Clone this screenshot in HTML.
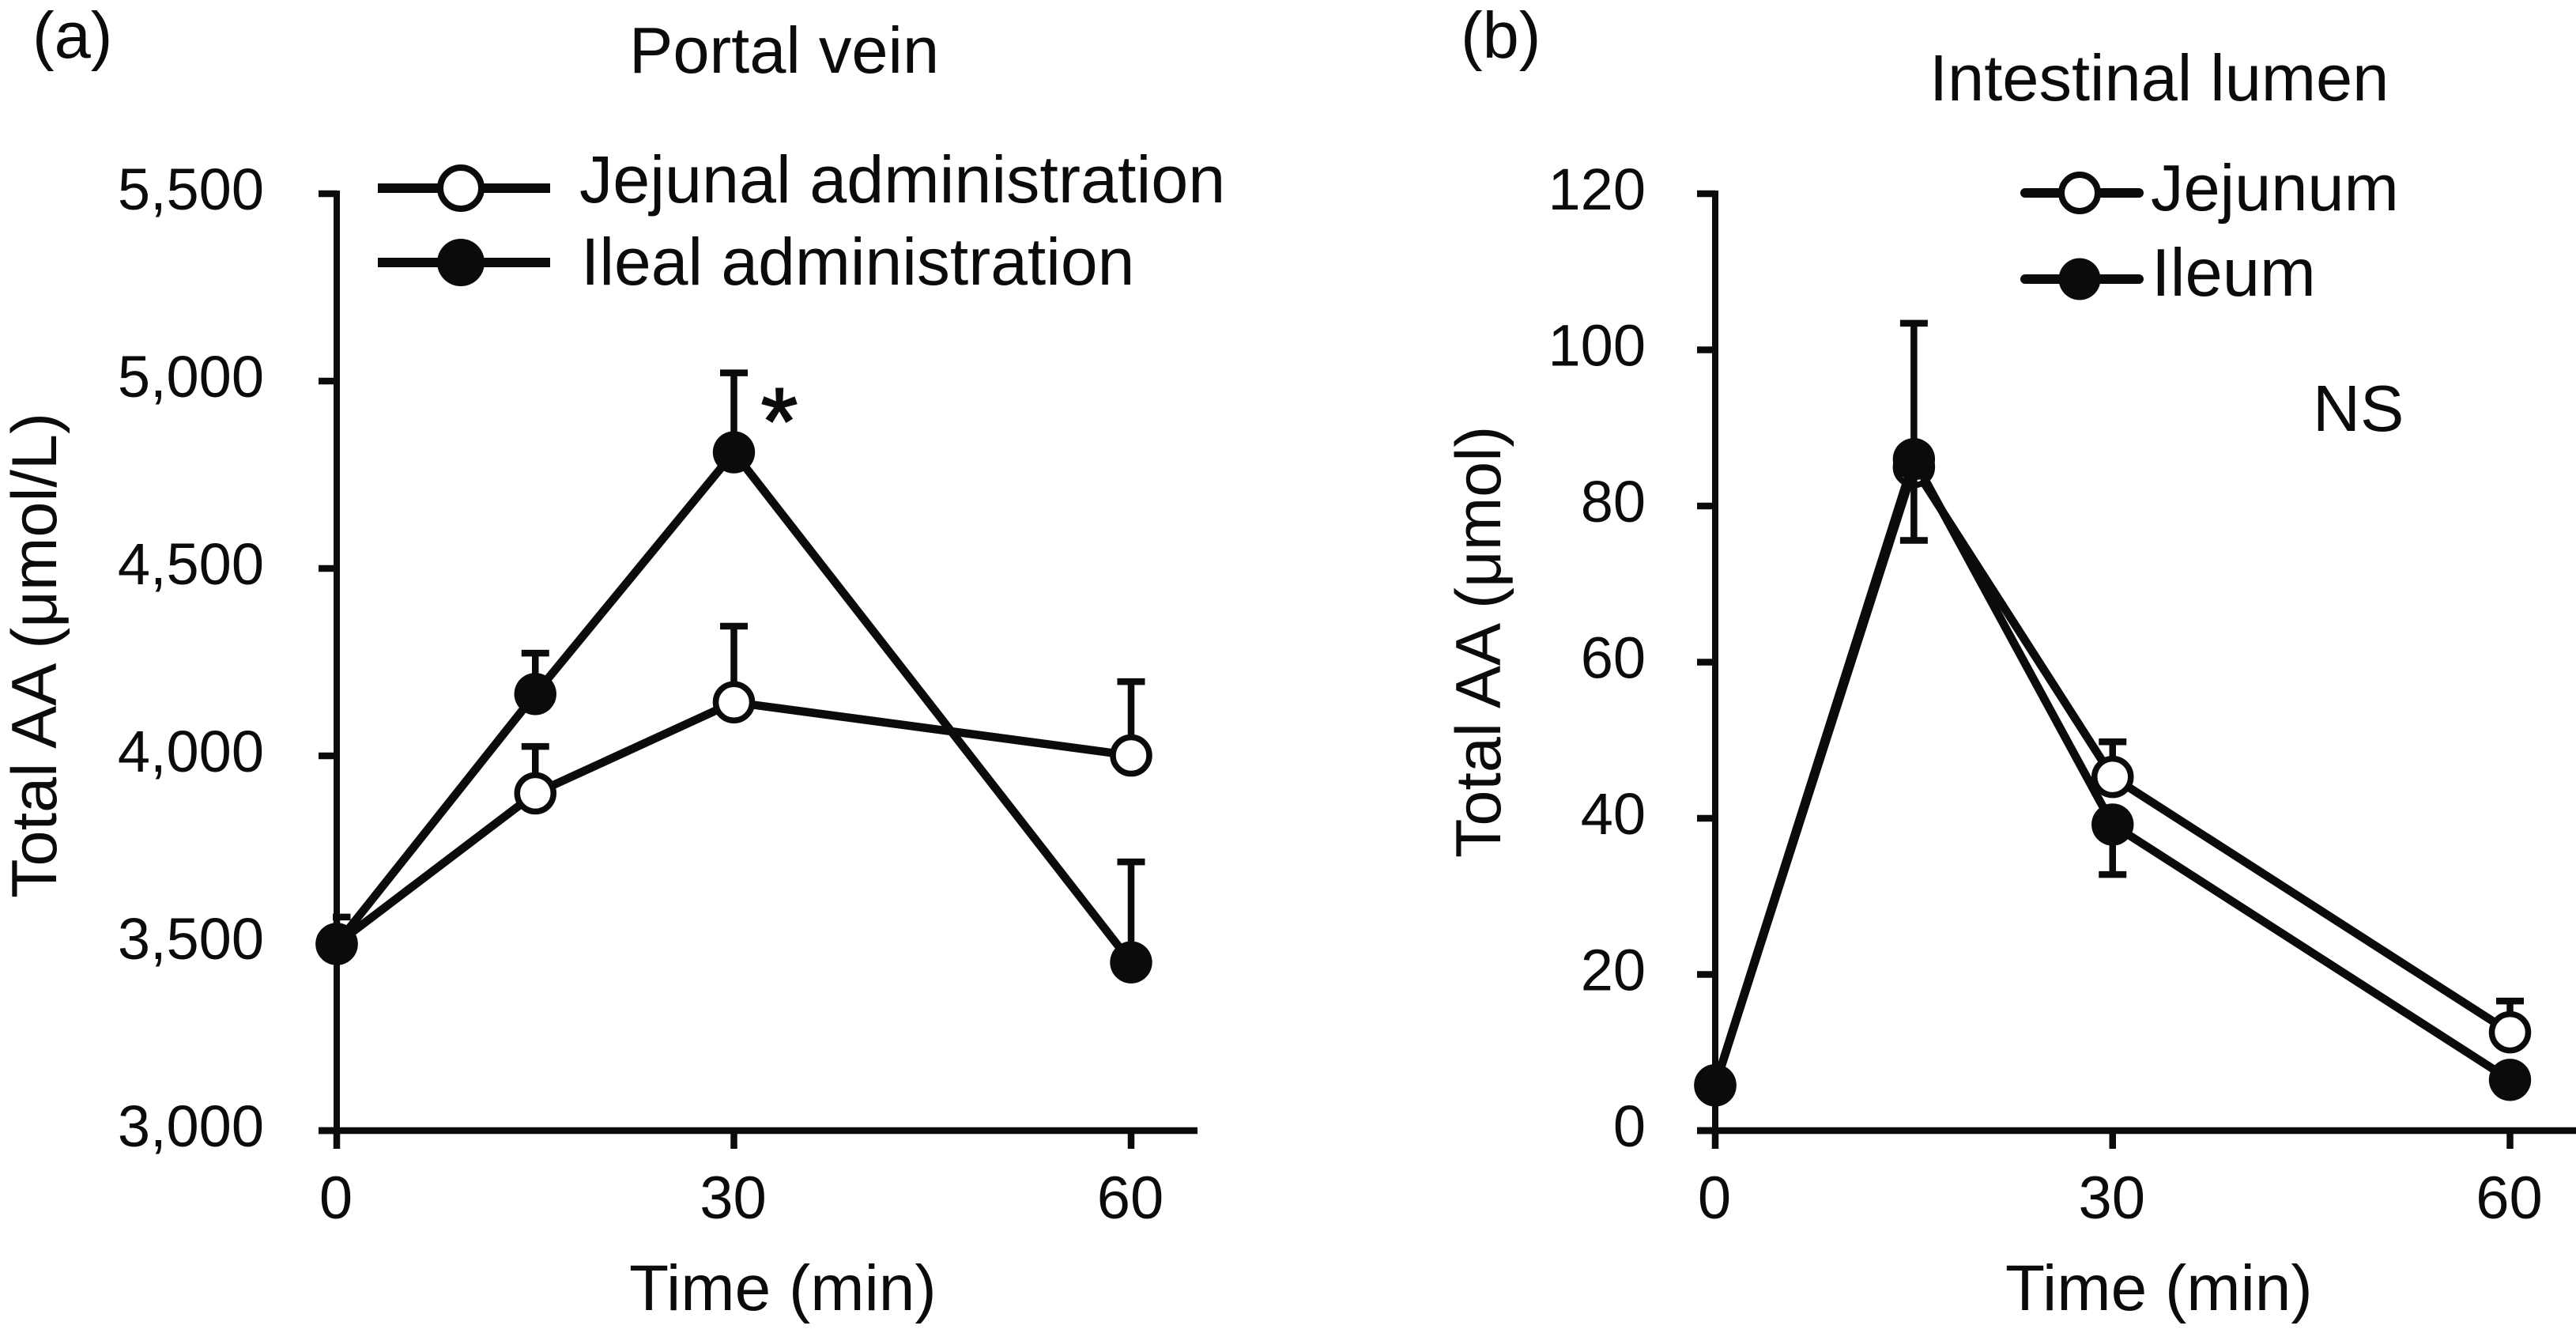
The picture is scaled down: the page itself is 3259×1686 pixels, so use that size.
<!DOCTYPE html>
<html>
<head>
<meta charset="utf-8">
<title>Total AA in portal vein and intestinal lumen</title>
<style>
html,body{margin:0;padding:0;background:#fff;}
svg{display:block;}
text{font-family:"Liberation Sans",Arial,sans-serif;fill:#0b0b0b;}
</style>
</head>
<body>
<svg id="figure" xmlns="http://www.w3.org/2000/svg" width="3259" height="1686" viewBox="0 0 3259 1686">
  <text x="41" y="73" font-size="83">(a)</text>
  <text x="796" y="92" font-size="83">Portal vein</text>
  <text transform="translate(71,829) rotate(-90)" text-anchor="middle" font-size="81">Total AA (μmol/L)</text>
  <text x="796" y="1657" font-size="82">Time (min)</text>
  <text x="986" y="574" text-anchor="middle" font-size="120" stroke="#0b0b0b" stroke-width="2">*</text>
  <text x="733" y="256" font-size="84.5">Jejunal administration</text>
  <text x="735" y="360" font-size="84">Ileal administration</text>

  <text x="1848" y="73" font-size="83">(b)</text>
  <text x="2441" y="127" font-size="83">Intestinal lumen</text>
  <text transform="translate(1898,812) rotate(-90)" text-anchor="middle" font-size="81">Total AA (μmol)</text>
  <text x="2537" y="1657" font-size="82">Time (min)</text>
  <text x="2926" y="545" font-size="83">NS</text>
  <text x="2721" y="266" font-size="83">Jejunum</text>
  <text x="2722" y="374" font-size="85">Ileum</text>

  <g>
    <line x1="478" y1="238" x2="696" y2="238" stroke="#0b0b0b" stroke-width="12"/>
    <circle cx="583" cy="238" r="26" fill="#fff" stroke="#0b0b0b" stroke-width="8"/>
  </g>
  <g>
    <line x1="478" y1="332" x2="696" y2="332" stroke="#0b0b0b" stroke-width="12"/>
    <circle cx="583" cy="332" r="30" fill="#0b0b0b"/>
  </g>
  <g>
    <line x1="2562" y1="244" x2="2706" y2="244" stroke="#0b0b0b" stroke-width="12" stroke-linecap="round"/>
    <circle cx="2631" cy="244" r="23" fill="#fff" stroke="#0b0b0b" stroke-width="8"/>
  </g>
  <g>
    <line x1="2562" y1="353" x2="2706" y2="353" stroke="#0b0b0b" stroke-width="12" stroke-linecap="round"/>
    <circle cx="2631" cy="353" r="26.5" fill="#0b0b0b"/>
  </g>
</svg>
<script>
var timeCategories = [0, 15, 30, 60];
var xTickValues = [0, 30, 60];

var portalYTicks = [3000, 3500, 4000, 4500, 5000, 5500];
var portalYTickLabels = ["3,000", "3,500", "4,000", "4,500", "5,000", "5,500"];
var portalJejunal = [3498, 3900, 4143, 4001];
var portalJejunalErrorEnds = [3570, 4025, 4346, 4198];
var portalIleal = [3498, 4165, 4810, 3449];
var portalIlealErrorEnds = [3498, 4274, 5022, 3717];

var lumenYTicks = [0, 20, 40, 60, 80, 100, 120];
var lumenYTickLabels = ["0", "20", "40", "60", "80", "100", "120"];
var lumenJejunum = [5.8, 85, 45.3, 12.6];
var lumenJejunumErrorEnds = [5.8, 103.4, 49.8, 16.6];
var lumenIleum = [5.8, 86, 39.2, 6.5];
var lumenIleumErrorEnds = [5.8, 75.6, 32.8, 6.5];

var NS = 'http://www.w3.org/2000/svg';
var INK = '#0b0b0b';
var svg = document.getElementById('figure');

function make(tag, attrs, parent) {
  var el = document.createElementNS(NS, tag);
  for (var k in attrs) { el.setAttribute(k, attrs[k]); }
  (parent || svg).appendChild(el);
  return el;
}

function drawPanel(cfg) {
  function xOf(t) { return cfg.x0 + t * (cfg.x60 - cfg.x0) / 60; }
  function yOf(v) { return cfg.yBase - (v - cfg.yMin) * (cfg.yBase - cfg.yTop) / (cfg.yMax - cfg.yMin); }

  var axes = make('g', {});
  
  

  var yAxis = make('line', {x1: cfg.x0, y1: yOf(cfg.yMax) - 4, x2: cfg.x0, y2: cfg.yBase, stroke: INK, 'stroke-width': 8}, axes);
  
  

  var xAxis = make('line', {x1: cfg.x0 - 23, y1: cfg.yBase, x2: cfg.xEnd, y2: cfg.yBase, stroke: INK, 'stroke-width': 8.5}, axes);
  
  

  cfg.yTicks.forEach(function (v, i) {
    var tick = make('line', {x1: cfg.x0 - 23, y1: yOf(v), x2: cfg.x0, y2: yOf(v), stroke: INK, 'stroke-width': 8.5}, axes);
    
    
    var label = make('text', {x: cfg.yLabelX, y: yOf(v) + 20, 'text-anchor': 'end', 'font-size': 74}, axes);
    label.textContent = cfg.yLabels[i];
    
    
  });

  xTickValues.forEach(function (t) {
    var tick = make('line', {x1: xOf(t), y1: cfg.yBase, x2: xOf(t), y2: cfg.yBase + 23, stroke: INK, 'stroke-width': 8.5}, axes);
    
    
    var label = make('text', {x: xOf(t) - 1, y: cfg.yBase + 111, 'text-anchor': 'middle', 'font-size': 76}, axes);
    label.textContent = String(t);
    
    
  });

  cfg.series.forEach(function (s) {
    var group = make('g', {});
    
    

    timeCategories.forEach(function (t, i) {
      if (s.err[i] === s.values[i]) { return; }
      var stem = make('line', {x1: xOf(t), y1: yOf(s.values[i]), x2: xOf(t), y2: yOf(s.err[i]), stroke: INK, 'stroke-width': 8.5}, group);
      
      
      var cap = make('line', {x1: Math.max(xOf(t) - 17.5, cfg.x0 - 5), y1: yOf(s.err[i]), x2: xOf(t) + 17.5, y2: yOf(s.err[i]), stroke: INK, 'stroke-width': 8.5}, group);
      
      
    });

    var pts = timeCategories.map(function (t, i) { return xOf(t) + ',' + yOf(s.values[i]); }).join(' ');
    var line = make('polyline', {points: pts, fill: 'none', stroke: INK, 'stroke-width': 10.5, 'stroke-linejoin': 'miter'}, group);
    
    

    timeCategories.forEach(function (t, i) {
      var attrs = s.open
        ? {cx: xOf(t), cy: yOf(s.values[i]), r: 23, fill: '#fff', stroke: INK, 'stroke-width': 7.5}
        : {cx: xOf(t), cy: yOf(s.values[i]), r: 26.7, fill: INK};
      var point = make('circle', attrs, group);
      
      
    });
  });
}

drawPanel({
  id: 'portal-vein', x0: 426, x60: 1431, xEnd: 1515, yBase: 1430, yTop: 245,
  yMin: 3000, yMax: 5500, yLabelX: 334, yTicks: portalYTicks, yLabels: portalYTickLabels,
  series: [
    {name: 'jejunal', open: true, values: portalJejunal, err: portalJejunalErrorEnds},
    {name: 'ileal', open: false, values: portalIleal, err: portalIlealErrorEnds}
  ]
});

drawPanel({
  id: 'intestinal-lumen', x0: 2170, x60: 3175.5, xEnd: 3259, yBase: 1430, yTop: 245,
  yMin: 0, yMax: 120, yLabelX: 2082, yTicks: lumenYTicks, yLabels: lumenYTickLabels,
  series: [
    {name: 'jejunum', open: true, values: lumenJejunum, err: lumenJejunumErrorEnds},
    {name: 'ileum', open: false, values: lumenIleum, err: lumenIleumErrorEnds}
  ]
});
</script>
</body>
</html>
